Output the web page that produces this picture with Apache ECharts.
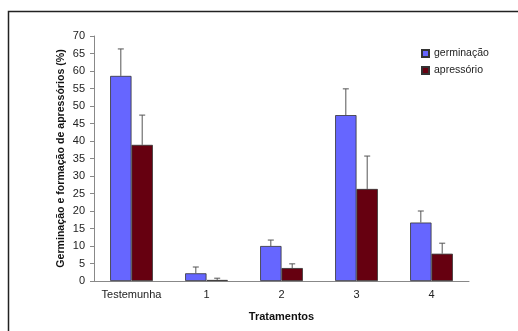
<!DOCTYPE html>
<html><head><meta charset="utf-8">
<script src="https://cdn.jsdelivr.net/npm/echarts@6/dist/echarts.min.js"></script>
<style>html,body{margin:0;padding:0;background:#fff;}#c{width:518px;height:331px;}</style>
</head><body><div id="c"></div>
<script>
var categories = ['Testemunha', '1', '2', '3', '4'];
var germinacao = [58.6, 2.2, 10.0, 47.4, 16.7];
var germinacaoErr = [7.7, 1.8, 1.7, 7.5, 3.3];
var apressorio = [38.9, 0.3, 3.7, 26.3, 7.8];
var apressorioErr = [8.5, 0.5, 1.2, 9.4, 3.0];
var yTicks = [0, 5, 10, 15, 20, 25, 30, 35, 40, 45, 50, 55, 60, 65, 70];

var GAP = 0.43;
function errSeries(vals, errs, side) {
  return {
    type: 'custom', silent: true, z: 5,
    data: vals.map(function (v, i) { return [i, v, errs[i]]; }),
    renderItem: function (params, api) {
      var i = api.value(0), v = api.value(1), e = api.value(2);
      var band = api.size([1, 0])[0];
      var bw = band * (1 - GAP) / 2;
      var base = api.coord([i, v]);
      var top = api.coord([i, v + e]);
      var x = base[0] + side * bw / 2;
      var st = { stroke: '#555', lineWidth: 1 };
      return { type: 'group', children: [
        { type: 'line', shape: { x1: x, y1: base[1], x2: x, y2: top[1] }, style: st },
        { type: 'line', shape: { x1: x - 3, y1: top[1], x2: x + 3, y2: top[1] }, style: st }
      ]};
    }
  };
}

var chart = echarts.init(document.getElementById('c'));
chart.setOption({
  animation: false,
  textStyle: { fontFamily: 'Liberation Sans, Arial, sans-serif' },
  graphic: [{ type: 'polyline', shape: { points: [[8.5, 340], [8.5, 11.5], [530, 11.5]] }, style: { stroke: '#222', lineWidth: 1.5, fill: null } }],
  grid: { left: 94, right: 49, top: 36, bottom: 50 },
  legend: {
    orient: 'vertical', left: 416, top: 43, itemWidth: 7, itemHeight: 7, itemGap: 6,
    icon: 'rect', textStyle: { fontSize: 10.5, color: '#222' },
    data: ['germinação', 'apressório']
  },
  xAxis: {
    type: 'category', data: categories,
    name: 'Tratamentos', nameLocation: 'middle', nameGap: 30,
    nameTextStyle: { fontWeight: 'bold', fontSize: 11, color: '#111' },
    axisLine: { lineStyle: { color: '#888' } },
    axisTick: { length: 4, lineStyle: { color: '#888' } },
    axisLabel: { fontSize: 11, color: '#222', margin: 8, interval: 0 }
  },
  yAxis: {
    type: 'value', min: 0, max: 70, interval: 5,
    name: 'Germinação e formação de apressórios (%)', nameLocation: 'middle', nameGap: 27,
    nameMoveOverlap: false,
    nameTextStyle: { fontWeight: 'bold', fontSize: 10.6, color: '#111' },
    axisLine: { show: true, lineStyle: { color: '#888' } },
    axisTick: { show: true, length: 4, lineStyle: { color: '#888' } },
    axisLabel: { fontSize: 11, color: '#222', margin: 9, formatter: function (v) { return yTicks.indexOf(v) >= 0 ? v : ''; } },
    splitLine: { show: false }
  },
  series: [
    { name: 'germinação', type: 'bar', data: germinacao, barGap: '0%', barCategoryGap: (GAP * 100) + '%',
      itemStyle: { color: '#6666FF', borderColor: '#333', borderWidth: 0.8 } },
    { name: 'apressório', type: 'bar', data: apressorio,
      itemStyle: { color: '#660010', borderColor: '#333', borderWidth: 0.8 } },
    errSeries(germinacao, germinacaoErr, -1),
    errSeries(apressorio, apressorioErr, 1)
  ]
});
</script></body></html>
